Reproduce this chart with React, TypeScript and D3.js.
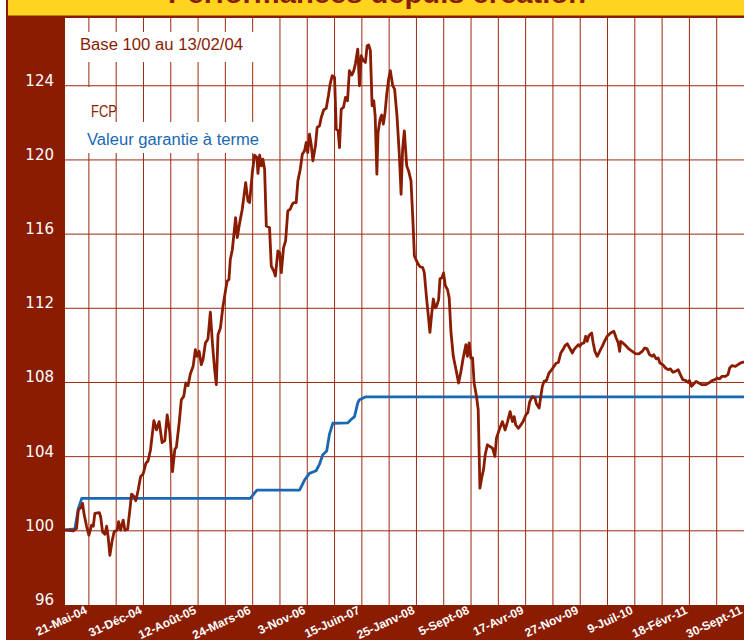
import * as d3 from "d3";

// Base 100 at 13/02/04, time expressed in weeks since that date
const baseDateStr = "2004-02-13";
const endDateStr = "2011-09-30";

const xTickDates = [
    "2004-05-21", "2004-12-31", "2005-08-12", "2006-03-24", "2006-11-03", "2007-06-15",
    "2008-01-25", "2008-09-05", "2009-04-17", "2009-11-27", "2010-07-09", "2011-02-18", "2011-09-30",
];
const xTickLabels = [
    "21-Mai-04", "31-Déc-04", "12-Août-05", "24-Mars-06", "3-Nov-06", "15-Juin-07",
    "25-Janv-08", "5-Sept-08", "17-Avr-09", "27-Nov-09", "9-Juil-10", "18-Févr-11", "30-Sept-11",
];
const yTicks = [96, 100, 104, 108, 112, 116, 120, 124];

// [week, value]
const fcpSeries: [number, number][] = [
    [0.6, 100.04], [4.9, 100.0], [6.8, 100.13], [7.8, 101.12], [9.7, 101.3], [10.3, 101.48], [11.1, 100.94],
    [12.7, 100.22], [14.0, 99.77], [15.6, 100.31], [16.6, 100.25], [17.5, 100.94], [20.1, 100.98], [20.9, 100.76],
    [22.0, 99.95], [23.4, 99.82], [24.4, 100.25], [25.3, 99.68], [26.3, 98.68], [27.7, 99.5], [28.8, 99.95],
    [30.6, 100.04], [31.4, 100.49], [32.6, 100.04], [34.1, 100.58], [35.1, 100.04], [36.7, 100.08], [38.0, 101.12],
    [39.0, 101.98], [40.6, 101.84], [41.5, 101.62], [42.9, 102.2], [44.3, 102.92], [45.8, 103.07], [47.4, 103.64],
    [48.7, 103.78], [50.1, 104.36], [52.1, 105.94], [53.6, 105.44], [55.2, 105.89], [56.9, 104.76], [58.5, 104.87],
    [59.9, 106.25], [61.4, 105.35], [63.0, 103.19], [64.4, 104.4], [65.3, 104.51], [66.9, 105.81], [68.2, 107.07],
    [69.6, 107.25], [70.8, 107.97], [72.1, 107.83], [73.5, 108.47], [75.1, 108.87], [76.4, 109.77], [77.4, 109.41],
    [78.6, 109.68], [79.9, 108.96], [80.9, 109.23], [82.3, 110.13], [83.8, 110.35], [85.2, 111.79], [86.4, 110.13],
    [87.7, 108.69], [88.7, 107.88], [89.7, 110.58], [91.1, 110.94], [92.6, 112.11], [94.2, 113.01], [95.0, 113.46],
    [96.1, 113.55], [96.9, 114.63], [98.1, 115.17], [98.9, 115.89], [100.0, 116.89], [101.0, 115.81], [102.4, 116.62],
    [103.9, 117.34], [105.9, 118.78], [107.2, 117.79], [108.2, 117.7], [109.8, 119.32], [111.1, 120.26], [112.5, 120.13],
    [113.1, 119.28], [114.1, 120.26], [115.1, 119.68], [116.0, 120.04], [117.0, 119.5], [118.0, 116.44], [119.9, 116.35],
    [120.9, 114.28], [122.4, 114.01], [123.3, 113.74], [124.8, 115.09], [125.8, 115.0], [126.8, 113.92], [128.1, 115.27],
    [129.3, 115.63], [130.6, 117.25], [132.0, 117.34], [133.2, 117.61], [134.1, 117.7], [135.5, 117.7], [136.5, 118.87],
    [137.9, 119.5], [139.1, 120.31], [140.4, 120.49], [141.4, 120.94], [142.3, 120.4], [143.3, 121.39], [144.3, 120.85],
    [145.3, 119.95], [146.8, 120.76], [147.8, 121.75], [149.2, 121.84], [150.2, 122.29], [151.7, 122.71], [153.1, 122.78],
    [154.4, 123.46], [155.4, 124.09], [156.6, 124.54], [158.0, 124.45], [159.0, 121.66], [160.1, 121.57], [160.9, 120.67],
    [161.9, 122.74], [163.2, 122.83], [164.4, 123.37], [165.6, 123.19], [166.7, 124.81], [168.1, 124.58], [169.1, 124.76],
    [170.2, 125.17], [171.6, 125.98], [172.6, 124.0], [173.6, 125.62], [174.9, 125.35], [176.1, 125.26], [177.1, 126.16],
    [178.0, 126.2], [179.0, 125.89], [180.0, 122.92], [181.0, 123.19], [181.8, 122.38], [182.8, 119.23], [183.5, 121.48],
    [184.7, 122.2], [185.6, 122.42], [186.6, 121.93], [187.6, 122.56], [188.6, 123.55], [189.7, 124.36], [190.7, 124.81],
    [192.1, 124.0], [193.2, 123.82], [194.6, 122.38], [196.0, 120.22], [197.0, 118.15], [197.9, 120.58], [198.9, 121.57],
    [200.3, 119.68], [201.4, 119.41], [202.8, 118.87], [203.8, 116.98], [204.8, 114.82], [206.1, 114.55], [207.1, 114.37],
    [208.1, 114.24], [209.7, 114.19], [210.6, 113.92], [212.0, 112.48], [212.6, 111.93], [213.9, 110.7], [214.9, 111.66],
    [215.9, 112.5], [217.0, 112.02], [217.8, 112.11], [219.0, 112.47], [219.8, 113.59], [220.9, 113.64], [221.9, 113.91],
    [222.9, 113.23], [224.2, 113.01], [225.2, 112.56], [226.2, 110.76], [227.6, 109.41], [229.2, 108.69], [230.7, 107.97],
    [232.1, 108.6], [233.4, 109.32], [235.0, 110.04], [235.9, 109.41], [236.9, 110.13], [237.9, 109.32], [238.9, 109.32],
    [239.8, 107.97], [241.2, 107.25], [242.2, 106.53], [243.2, 102.3], [244.4, 102.93], [245.3, 103.29], [246.3, 104.1],
    [247.6, 104.64], [249.0, 104.55], [250.6, 104.46], [252.0, 104.01], [252.9, 105.0], [254.5, 105.44], [256.4, 105.89],
    [258.0, 105.44], [259.4, 105.89], [260.9, 106.43], [262.3, 105.89], [263.3, 106.16], [264.2, 105.71], [265.8, 105.53],
    [267.2, 105.71], [268.5, 105.89], [270.1, 106.25], [271.3, 106.38], [272.4, 106.97], [274.0, 107.25], [275.5, 107.16],
    [276.3, 106.85], [277.9, 106.62], [278.9, 107.25], [279.8, 107.79], [280.8, 108.06], [282.2, 108.11], [283.7, 108.51],
    [285.3, 108.69], [286.6, 108.87], [288.0, 109.05], [289.2, 109.08], [290.6, 109.59], [291.9, 109.77], [293.1, 109.99],
    [294.4, 110.09], [295.8, 109.86], [297.4, 109.59], [298.3, 109.77], [299.7, 109.92], [300.9, 110.04], [301.7, 109.95],
    [302.8, 110.09], [304.2, 110.13], [305.2, 110.49], [306.1, 110.22], [307.1, 110.53], [308.7, 110.67], [309.6, 110.13],
    [310.6, 109.68], [312.0, 109.41], [313.4, 109.68], [314.9, 109.95], [316.5, 110.27], [317.8, 110.49], [319.8, 110.67],
    [321.7, 110.76], [323.1, 110.4], [324.3, 110.13], [325.1, 109.68], [325.7, 110.22], [327.0, 110.13], [328.6, 109.99],
    [330.5, 109.81], [332.5, 109.68], [334.4, 109.56], [336.4, 109.54], [338.3, 109.68], [339.9, 109.86], [341.2, 109.81],
    [342.6, 109.5], [344.2, 109.41], [345.1, 109.5], [346.5, 109.27], [347.7, 109.32], [348.7, 109.05], [350.4, 108.96],
    [352.0, 108.78], [353.5, 108.69], [354.9, 108.73], [356.3, 108.55], [357.8, 108.6], [359.4, 108.69], [360.7, 108.42],
    [362.1, 108.15], [363.7, 108.11], [365.2, 108.0], [366.0, 108.11], [367.2, 107.79], [368.6, 107.93], [369.9, 108.06],
    [371.5, 107.97], [373.4, 107.88], [375.4, 107.88], [377.3, 107.97], [379.3, 108.1], [380.9, 108.15], [382.2, 108.24],
    [383.6, 108.19], [385.1, 108.33], [387.1, 108.33], [388.6, 108.42], [389.6, 108.78], [391.0, 108.91], [393.0, 108.87],
    [394.5, 108.96], [395.9, 109.05], [397.6, 109.1],
];

const guaranteeSeries: [number, number][] = [
    [0, 100.05], [5.8, 100.1], [7.8, 101.2], [9.8, 101.75], [108.6, 101.75], [112.5, 102.2], [137.5, 102.2],
    [140.4, 102.74], [143.3, 103.1], [147.2, 103.24], [149.2, 103.6], [151.1, 104.1], [153.4, 104.3], [155.0, 105.2],
    [157.0, 105.8], [165.7, 105.82], [167.7, 106.0], [169.7, 106.16], [171.6, 106.9], [172.6, 107.07], [176.1, 107.22],
    [398.5, 107.22],
];

const DARK = "#8a1c02";
const BLUE = "#1a68b2";
const YELLOW = "#ffd41f";
const GRID = "#9a2a12";

export default function App() {
    const width = 744;
    const height = 640;
    const plot = { left: 65, right: 744, top: 18, bottom: 605 };

    const parse = d3.utcParse("%Y-%m-%d");
    const baseDate = parse(baseDateStr) as Date;
    const endDate = parse(endDateStr) as Date;
    const weekToDate = (w: number) => new Date(baseDate.getTime() + w * 7 * 864e5);

    const x = d3.scaleUtc().domain([baseDate, endDate]).range([plot.left, plot.right]);
    const y = d3.scaleLinear().domain([96, 127.6]).range([plot.bottom, 19]);

    const labelDates = xTickDates.map(d => parse(d) as Date);
    // gridlines every 16 weeks, labels every other one
    const gridDates = d3.range(0, 24).map(i => d3.utcDay.offset(labelDates[0], i * 112));

    const line = d3.line<[number, number]>()
        .x(d => x(weekToDate(d[0])))
        .y(d => y(d[1]))
        .curve(d3.curveLinear);

    const font = "'Liberation Sans', Arial, sans-serif";

    return (
        <div style={{ position: "absolute", left: 0, top: 0 }}>
            <svg width={width} height={height} style={{ display: "block", background: "#ffffff" }}>
                <defs>
                    <clipPath id="plotClip">
                        <rect x={plot.left} y={plot.top} width={plot.right - plot.left} height={plot.bottom - plot.top} />
                    </clipPath>
                </defs>

                {/* header band */}
                <rect x={7} y={0} width={width - 7} height={16} fill={YELLOW} />
                <text x={377} y={3} textAnchor="middle" fontFamily={font} fontWeight="bold" fontSize={28}
                      fill={DARK} textLength={418} lengthAdjust="spacingAndGlyphs">
                    Performances depuis création
                </text>
                <rect x={6} y={15.5} width={width - 6} height={2.5} fill={DARK} />
                <rect x={6} y={0} width={2} height={18} fill={DARK} />

                {/* axis bands */}
                <rect x={6} y={16} width={plot.left - 6} height={height - 16} fill={DARK} />
                <rect x={6} y={plot.bottom} width={width - 6} height={height - plot.bottom} fill={DARK} />

                {/* grid */}
                <g stroke={GRID} strokeWidth={1}>
                    {gridDates.map((d, i) => (
                        <line key={"v" + i} x1={x(d)} x2={x(d)} y1={plot.top} y2={plot.bottom} />
                    ))}
                    {yTicks.filter(t => t > 96).map(t => (
                        <line key={"h" + t} x1={plot.left} x2={plot.right} y1={y(t)} y2={y(t)} />
                    ))}
                </g>

                {/* legend boxes */}
                <rect x={plot.left} y={32} width={197} height={30} fill="#ffffff" />
                <rect x={plot.left} y={87} width={48} height={35} fill="#ffffff" />
                <rect x={plot.left} y={122} width={197} height={31} fill="#ffffff" />
                <text x={80} y={50} fontFamily={font} fontSize={16} fill={DARK}
                      textLength={163} lengthAdjust="spacingAndGlyphs">Base 100 au 13/02/04</text>
                <text x={91} y={116.5} fontFamily={font} fontSize={16.5} fill={DARK}
                      textLength={26} lengthAdjust="spacingAndGlyphs">FCP</text>
                <text x={87} y={144.5} fontFamily={font} fontSize={16} fill={BLUE}
                      textLength={172} lengthAdjust="spacingAndGlyphs">Valeur garantie à terme</text>

                {/* series */}
                <g clipPath="url(#plotClip)" fill="none" strokeLinejoin="round" strokeLinecap="round">
                    <path d={line(guaranteeSeries) || ""} stroke={BLUE} strokeWidth={2.8} />
                    <path d={line(fcpSeries) || ""} stroke={DARK} strokeWidth={2.8} />
                </g>

                {/* y labels */}
                {yTicks.map(t => (
                    <text key={"yl" + t} x={54} y={y(t)} textAnchor="end" fontFamily="'DejaVu Sans', sans-serif"
                          fontSize={15} fill="#ffffff">{t}</text>
                ))}

                {/* x labels */}
                {labelDates.map((d, i) => (
                    <text key={"xl" + i} transform={`translate(${x(d) - 1},${613}) rotate(-25)`}
                          textAnchor="end" fontFamily={font} fontWeight="bold" fontSize={12} fill="#ffffff">
                        {xTickLabels[i]}
                    </text>
                ))}
            </svg>
        </div>
    );
}
